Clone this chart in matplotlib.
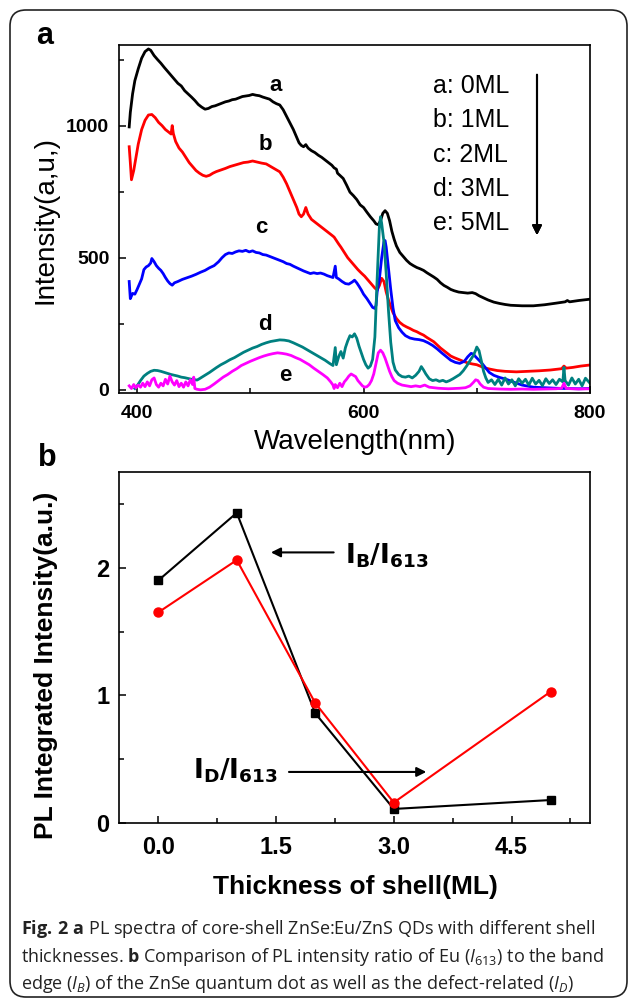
import numpy as np
import matplotlib
matplotlib.use('Agg')
import matplotlib.pyplot as plt
from matplotlib.patches import FancyBboxPatch

plt.rcParams['font.family'] = ['Liberation Sans', 'DejaVu Sans']
plt.rcParams['mathtext.fontset'] = 'custom'
plt.rcParams['mathtext.rm'] = 'Open Sans'
plt.rcParams['mathtext.it'] = 'Open Sans:italic'
plt.rcParams['mathtext.bf'] = 'Open Sans:bold'

# ---- panel a: PL spectra (wavelength nm, intensity a.u.) ----
wl_a = [393, 394, 396, 398, 401, 404, 407, 410, 412, 415, 418, 421, 424, 427, 430, 433, 436, 439, 442, 445,
        448, 451, 454, 457, 460, 463, 466, 469, 472, 475, 478, 481, 484, 487, 490, 493, 496, 499, 502, 505,
        508, 511, 514, 517, 520, 523, 526, 529, 532, 535, 538, 541, 543, 545, 547, 549, 551, 554, 557, 560,
        563, 566, 569, 572, 574, 576, 577, 579, 582, 585, 588, 591, 594, 597, 600, 603, 606, 609, 611, 613,
        615, 617, 619, 621, 623, 625, 627, 629, 632, 635, 638, 641, 644, 647, 650, 653, 656, 659, 662, 665,
        668, 671, 674, 677, 680, 684, 688, 692, 696, 699, 702, 706, 710, 715, 720, 725, 730, 740, 750, 760,
        770, 778, 780, 782, 790, 800]
int_a = [995, 1050, 1120, 1170, 1215, 1255, 1280, 1290, 1285, 1265, 1250, 1236, 1220, 1205, 1190, 1175, 1160, 1150, 1132, 1120,
         1108, 1095, 1080, 1070, 1062, 1065, 1072, 1075, 1080, 1085, 1090, 1093, 1098, 1100, 1105, 1110, 1112, 1114, 1118, 1115,
         1113, 1108, 1104, 1100, 1090, 1083, 1078, 1060, 1035, 1010, 985, 955, 935, 925, 920, 928, 915, 905, 898, 888,
         880, 870, 860, 850, 840, 835, 820, 812, 800, 775, 748, 735, 720, 700, 690, 672, 655, 640, 628, 625,
         640, 668, 678, 668, 640, 600, 570, 545, 520, 505, 490, 478, 470, 463, 458, 452, 443, 435, 427, 418,
         405, 395, 388, 380, 375, 370, 368, 366, 368, 364, 356, 348, 340, 332, 327, 323, 320, 318, 318, 322,
         328, 333, 338, 333, 338, 343]

wl_b = [393, 394, 395, 397, 399, 401, 404, 407, 410, 413, 416, 419, 422, 425, 428, 430, 431, 432, 434, 437,
        440, 443, 446, 449, 452, 455, 458, 461, 464, 467, 470, 474, 478, 482, 486, 490, 494, 498, 502, 506,
        510, 514, 518, 522, 526, 529, 532, 535, 538, 541, 543, 545, 547, 549, 551, 554, 557, 560, 563, 566,
        569, 572, 574, 576, 578, 580, 583, 586, 589, 592, 595, 598, 601, 604, 607, 610, 612, 614, 616, 618,
        620, 622, 624, 626, 629, 632, 635, 638, 641, 644, 647, 650, 653, 656, 659, 662, 665, 668, 671, 674,
        677, 680, 684, 688, 692, 696, 700, 704, 708, 712, 718, 725, 735, 745, 755, 765, 775, 777, 779, 785,
        792, 800]
int_b = [920, 860, 795, 830, 880, 930, 985, 1020, 1040, 1042, 1030, 1012, 1000, 985, 975, 968, 1000, 970, 940, 915,
         900, 880, 860, 845, 830, 820, 812, 808, 812, 820, 826, 832, 838, 845, 850, 855, 860, 862, 866, 862,
         858, 855, 845, 835, 825, 805, 780, 750, 720, 690, 665, 655, 665, 690, 665, 645, 635, 625, 615, 605,
         595, 585, 578, 565, 552, 540, 520, 500, 485, 470, 455, 442, 430, 415, 400, 385, 378, 395, 422, 410,
         370, 340, 315, 292, 270, 255, 245, 238, 232, 225, 220, 213, 207, 198, 190, 182, 170, 158, 148, 138,
         128, 122, 115, 108, 102, 98, 95, 88, 82, 78, 73, 70, 68, 70, 72, 75, 80, 90, 82, 85,
         90, 94]

wl_c = [393, 394, 396, 398, 400, 402, 404, 406, 408, 410, 412, 413, 415, 417, 419, 421, 423, 425, 427, 429,
        431, 433, 436, 440, 444, 448, 452, 456, 460, 464, 468, 472, 475, 478, 481, 484, 487, 490, 493, 496,
        499, 502, 505, 508, 511, 514, 517, 520, 523, 526, 529, 532, 535, 538, 541, 544, 547, 550, 553, 556,
        559, 562, 565, 568, 571, 573, 575, 576, 578, 581, 584, 587, 590, 592, 594, 596, 598, 600, 603, 606,
        608, 610, 611, 612, 614, 616, 618, 619, 620, 622, 624, 626, 628, 631, 634, 637, 641, 645, 649, 653,
        657, 661, 665, 669, 673, 677, 681, 685, 689, 692, 695, 697, 699, 702, 705, 708, 711, 715, 720, 726,
        732, 740, 750, 760, 770, 780, 790, 800]
int_c = [410, 345, 365, 362, 380, 400, 420, 455, 465, 470, 480, 497, 485, 470, 460, 452, 440, 425, 412, 402,
         396, 405, 410, 418, 424, 430, 437, 445, 452, 462, 470, 485, 500, 512, 518, 516, 522, 526, 524, 528,
         522, 526, 520, 518, 512, 510, 505, 500, 495, 490, 485, 478, 475, 468, 462, 456, 450, 445, 440, 443,
         440, 442, 438, 432, 428, 425, 468, 425, 420, 410, 402, 400, 408, 415, 405, 392, 378, 362, 345, 325,
         312, 308, 320, 370, 420, 500, 560, 565, 540, 460, 380, 310, 262, 235, 218, 205, 196, 192, 190, 186,
         178, 168, 155, 140, 126, 112, 104, 100, 108, 125, 138, 135, 125, 112, 98, 82, 66, 55, 47, 40,
         30, 18, 10, 8, 6, 5, 4, 5]

wl_d = [398, 400, 403, 406, 409, 412, 415, 418, 421, 424, 427, 430, 433, 436, 439, 442, 445, 448, 451, 453,
        455, 458, 461, 464, 467, 470, 474, 478, 482, 486, 490, 494, 498, 502, 506, 510, 514, 518, 522, 526,
        530, 534, 538, 542, 546, 550, 554, 558, 562, 566, 570, 573, 575, 576, 578, 580, 582, 584, 586, 588,
        590, 592, 594, 596, 598, 600, 602, 604, 606, 608, 610, 612, 614, 615, 616, 618, 620, 622, 624, 626,
        628, 631, 634, 637, 640, 643, 646, 649, 651, 653, 655, 658, 661, 664, 667, 670, 673, 676, 679, 682,
        685, 688, 691, 694, 697, 699, 700, 702, 704, 706, 708, 710, 713, 716, 719, 722, 725, 728, 731, 734,
        737, 740, 743, 746, 749, 752, 755, 758, 761, 764, 767, 770, 773, 776, 777, 778, 781, 784, 787, 790,
        793, 796, 800]
int_d = [5, 15, 35, 52, 62, 70, 74, 73, 70, 66, 62, 58, 55, 52, 48, 46, 43, 40, 38, 37,
         42, 50, 58, 66, 75, 84, 95, 104, 114, 122, 132, 142, 150, 158, 164, 172, 178, 183, 186, 189,
         188, 185, 178, 170, 162, 152, 142, 132, 122, 112, 100, 92, 160, 95, 125, 145, 120, 160, 185, 205,
         200, 212, 195, 165, 140, 115, 95, 82, 90, 115, 200, 420, 620, 655, 630, 560, 440, 300, 180, 105,
         75, 58, 50, 48, 52, 45, 55, 70, 88, 75, 60, 42, 35, 38, 32, 36, 30, 35, 42, 50,
         58, 72, 90, 110, 130, 150, 162, 148, 110, 70, 45, 28, 38, 20, 40, 18, 45, 22, 38, 15,
         42, 25, 40, 18, 44, 22, 36, 16, 42, 24, 38, 20, 40, 30, 85, 35, 18, 45, 22, 40,
         15, 44, 25]

wl_e = [393, 395, 397, 399, 401, 403, 405, 407, 409, 411, 413, 415, 417, 419, 421, 423, 425, 427, 429, 431,
        433, 435, 437, 439, 441, 443, 445, 447, 449, 450, 451, 453, 456, 460, 464, 468, 472, 476, 480, 484,
        488, 492, 496, 500, 504, 508, 512, 516, 520, 524, 528, 532, 536, 540, 544, 548, 552, 556, 560, 564,
        568, 571, 573, 574, 575, 577, 579, 581, 583, 585, 587, 589, 591, 593, 595, 597, 599, 601, 603, 605,
        607, 609, 611, 613, 615, 617, 619, 621, 623, 625, 627, 630, 634, 638, 642, 646, 650, 654, 658, 662,
        666, 670, 675, 680, 685, 690, 694, 697, 699, 701, 703, 706, 710, 720, 730, 740, 750, 760, 770, 775,
        777, 779, 790, 800]
int_e = [15, 5, 20, 8, 18, 10, 25, 12, 30, 15, 38, 45, 20, 10, 25, 15, 40, 22, 52, 30,
         18, 35, 12, 25, 10, 30, 15, 38, 20, 48, 5, 2, 0, 2, 10, 22, 35, 48, 58, 70,
         80, 92, 100, 108, 115, 122, 128, 133, 137, 140, 138, 135, 130, 122, 115, 105, 95, 82, 70, 58,
         45, 30, 18, 5, 20, 8, 25, 12, 30, 40, 52, 60, 55, 50, 35, 25, 15, 10, 12, 20,
         35, 60, 100, 140, 150, 140, 120, 95, 70, 50, 35, 25, 18, 15, 12, 15, 12, 18, 10, 8,
         6, 5, 4, 5, 6, 8, 15, 28, 38, 35, 22, 10, 5, 3, 2, 3, 2, 3, 4, 6,
         25, 5, 3, 4]

curve_names = ['a', 'b', 'c', 'd', 'e']
shells = ['0ML', '1ML', '2ML', '3ML', '5ML']
colors = ['black', 'red', 'blue', '#008080', 'magenta']

# ---- panel b: integrated intensity ratios vs shell thickness ----
thickness = [0, 1, 2, 3, 5]
ratio_B = [1.90, 2.43, 0.86, 0.11, 0.18]
ratio_D = [1.65, 2.06, 0.94, 0.16, 1.03]

fig = plt.figure(figsize=(6.3, 10), dpi=100)
W, H = 630.0, 1000.0


def px_axes(left, top, right, bottom):
    return fig.add_axes([left / W, 1 - bottom / H, (right - left) / W, (bottom - top) / H])


def ftext(x, y, s, **kw):
    return fig.text(x / W, 1 - y / H, s, **kw)


# rounded frame around the whole figure
frame = FancyBboxPatch((0.10, 0.03), 6.17, 9.87, boxstyle='round,pad=0,rounding_size=0.16',
                       transform=fig.dpi_scale_trans, fill=False, ec='#222222', lw=1.2)
fig.patches.append(frame)

# ---------------- panel a ----------------
ax1 = px_axes(119, 45, 590, 393)
series = [(wl_a, int_a), (wl_b, int_b), (wl_c, int_c), (wl_d, int_d), (wl_e, int_e)]
for (wl, inten), c in zip(series, colors):
    ax1.plot(wl, inten, color=c, lw=2.0)
ax1.set_xlim(384, 800)
ax1.set_ylim(-12, 1305)
ax1.set_xticks([400, 600, 800])
ax1.set_xticks([500, 700], minor=True)
ax1.set_yticks([0, 500, 1000])
ax1.set_yticks([250, 750, 1250], minor=True)

# curve labels
label_pos = [(522, 1150), (513, 928), (510, 614), (513, 246), (531, 55)]
for name, (x, y) in zip(curve_names, label_pos):
    ax1.text(x, y, name, fontsize=16, fontweight='bold', ha='center', va='center')

# legend-like list with arrow
for i, (name, sh) in enumerate(zip(curve_names, shells)):
    ftext(433, 86 + i * 34.3, f'{name}: {sh}', fontsize=18, va='center', ha='left')
fig.add_artist(plt.annotate('', xy=(537 / W, 1 - 238 / H), xytext=(537 / W, 1 - 72 / H),
                            xycoords='figure fraction', textcoords='figure fraction',
                            arrowprops=dict(arrowstyle='-|>', color='k', lw=1.5, mutation_scale=14)))

ftext(355, 442, 'Wavelength(nm)', fontsize=20, ha='center', va='center')
ftext(46, 220, 'Intensity(a,u,)', fontsize=20, ha='center', va='center', rotation=90)
ftext(45, 36, 'a', fontsize=22, fontweight='bold', ha='center', va='center')

# ---------------- panel b ----------------
ax2 = px_axes(119, 472, 590, 823)
ax2.plot(thickness, ratio_B, color='black', lw=1.5, marker='s', ms=6)
ax2.plot(thickness, ratio_D, color='red', lw=1.5, marker='o', ms=6.5)
ax2.set_xlim(-0.5, 5.5)
ax2.set_ylim(0, 2.75)
ax2.set_xticks([0, 1.5, 3.0, 4.5])
ax2.set_xticklabels(['0.0', '1.5', '3.0', '4.5'])
ax2.set_xticks([0.75, 2.25, 3.75, 5.25], minor=True)
ax2.set_yticks([0, 1, 2])
ax2.set_yticks([0.5, 1.5, 2.5], minor=True)

ax2.annotate('', xy=(1.40, 2.12), xytext=(2.27, 2.12),
             arrowprops=dict(arrowstyle='-|>', color='k', lw=1.5, mutation_scale=14))
ax2.text(2.38, 2.09, r'$\mathbf{I_B/I_{613}}$', fontsize=19, ha='left', va='center',
         math_fontfamily='dejavusans')
ax2.annotate('', xy=(3.45, 0.40), xytext=(1.63, 0.40),
             arrowprops=dict(arrowstyle='-|>', color='k', lw=1.5, mutation_scale=14))
ax2.text(1.52, 0.41, r'$\mathbf{I_D/I_{613}}$', fontsize=19, ha='right', va='center',
         math_fontfamily='dejavusans')

ftext(355, 887, 'Thickness of shell(ML)', fontsize=19, fontweight='bold', ha='center', va='center')
ftext(46, 665, 'PL Integrated Intensity(a.u.)', fontsize=19, fontweight='bold',
      ha='center', va='center', rotation=90)
ftext(47, 458, 'b', fontsize=22, fontweight='bold', ha='center', va='center')

for ax, size in [(ax1, 14), (ax2, 17)]:
    for sp in ax.spines.values():
        sp.set_linewidth(1.2)
    ax.tick_params(which='both', direction='in', width=1.1, pad=7)
    ax.tick_params(which='major', length=5)
    ax.tick_params(which='minor', length=3.5)
    ax.tick_params(axis='x', pad=9)
    plt.setp(ax.get_xticklabels() + ax.get_yticklabels(), fontweight='bold', fontsize=size)

# ---------------- caption ----------------
cap = [r'$\mathbf{Fig.\,2\ a}$ PL spectra of core-shell ZnSe:Eu/ZnS QDs with different shell',
       r'thicknesses. $\mathbf{b}$ Comparison of PL intensity ratio of Eu ($\mathit{I}_{\mathrm{613}}$) to the band',
       r'edge ($\mathit{I}_{\mathit{B}}$) of the ZnSe quantum dot as well as the defect-related ($\mathit{I}_{\mathit{D}}$)']
for i, line in enumerate(cap):
    ftext(21, 929 + i * 27.5, line, fontsize=13.0, family='Open Sans', ha='left', va='center',
          color='#222222')

fig.savefig('out.png', dpi=100)
